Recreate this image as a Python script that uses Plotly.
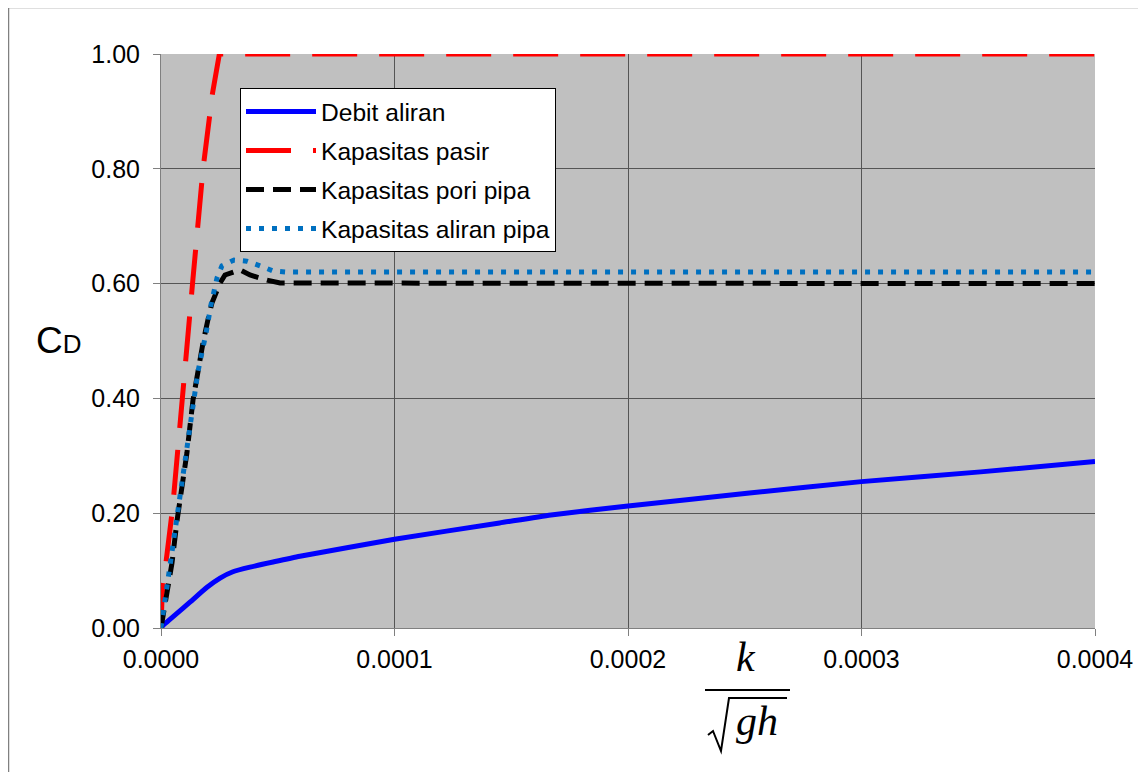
import plotly.graph_objects as go

# ---- data ----
debit_x = [0, 1.0e-6, 12.4e-6, 19.7e-6, 25.3e-6, 30.8e-6, 38.1e-6, 48.0e-6, 59.5e-6,
           100e-6, 145e-6, 167e-6, 200e-6, 252e-6, 300e-6, 351e-6, 400e-6]
debit_y = [0, 0.005, 0.045, 0.071, 0.087, 0.098, 0.106, 0.115, 0.125,
           0.1545, 0.183, 0.197, 0.2125, 0.235, 0.255, 0.272, 0.29]

pasir_x = [0, 0.5e-6, 5e-6, 8e-6, 10.5e-6, 13.5e-6, 18e-6, 22e-6, 25e-6, 400e-6]
pasir_y = [0, 0.06, 0.21, 0.34, 0.46, 0.60, 0.80, 0.93, 1.0, 1.0]

pori_x = [0, 2.6e-6, 4.7e-6, 6.9e-6, 9.0e-6, 11.1e-6, 13.7e-6, 15.8e-6, 18.0e-6, 20.1e-6,
          21.8e-6, 25.3e-6, 27.4e-6, 33.8e-6, 38.1e-6, 45.4e-6, 51.0e-6, 400e-6]
pori_y = [0, 0.066, 0.113, 0.188, 0.24, 0.305, 0.397, 0.45, 0.497, 0.537,
          0.566, 0.601, 0.615, 0.624, 0.615, 0.606, 0.601, 0.60]

aliran_x = [0, 1.7e-6, 5.1e-6, 7.7e-6, 12.4e-6, 15.8e-6, 19.3e-6, 21.4e-6, 24.0e-6,
            26.1e-6, 31.3e-6, 36.8e-6, 42.4e-6, 48.0e-6, 54.0e-6, 400e-6]
aliran_y = [0, 0.049, 0.141, 0.211, 0.352, 0.446, 0.514, 0.563, 0.61,
            0.631, 0.641, 0.639, 0.631, 0.622, 0.62, 0.62]

x_ticks = [0, 0.0001, 0.0002, 0.0003, 0.0004]
y_ticks = [0, 0.2, 0.4, 0.6, 0.8, 1.0]

# ---- layout geometry (page has an 8px body margin) ----
OFF = 8
W, H = 1146 - OFF, 772 - OFF
L, R, T, B = 161 - OFF, 51, 54 - OFF, H - (628 - OFF)
PW, PH = W - L - R, H - T - B


def xp(px):
    """page pixel x -> paper fraction"""
    return (px - OFF - L) / PW


def yp(py):
    """page pixel y -> paper fraction"""
    return (H - B - (py - OFF)) / PH


fig = go.Figure()
fig.add_trace(go.Scatter(x=debit_x, y=debit_y, mode="lines", name="Debit aliran",
                         line=dict(color="#0000FF", width=5, shape="spline", smoothing=0.5),
                         legendgroup="a"))
fig.add_trace(go.Scatter(x=pasir_x, y=pasir_y, mode="lines", name="Kapasitas pasir",
                         line=dict(color="#FF0000", width=5, dash="45px,22px"),
                         cliponaxis=False, legendgroup="b"))
fig.add_trace(go.Scatter(x=pori_x, y=pori_y, mode="lines", name="Kapasitas pori pipa",
                         line=dict(color="#000000", width=5, dash="18px,9px"),
                         legendgroup="c"))
fig.add_trace(go.Scatter(x=aliran_x, y=aliran_y, mode="lines", name="Kapasitas aliran pipa",
                         line=dict(color="#0070C0", width=5, dash="5px,8px"),
                         legendgroup="d"))

axis_common = dict(showline=True, linecolor="#808080", linewidth=1,
                   ticks="outside", ticklen=7, tickcolor="#808080",
                   showgrid=True, gridcolor="#555555", gridwidth=1,
                   zeroline=False, tickfont=dict(size=25, color="#000000"))

fig.update_xaxes(range=[0, 0.0004], tickvals=x_ticks, tickformat=".4f",
                 ticklabelstandoff=2, **axis_common)
fig.update_yaxes(range=[0, 1.0], tickvals=y_ticks, tickformat=".2f",
                 ticklabelstandoff=8, **axis_common)

shapes = [
    # outer chart frame
    dict(type="rect", xref="paper", yref="paper", x0=xp(8.5), y0=yp(7.5), x1=xp(1170), y1=yp(800),
         line=dict(color="#808080", width=1.5), layer="below"),
    # fraction bar
    dict(type="line", xref="paper", yref="paper", x0=xp(705), x1=xp(790), y0=yp(690), y1=yp(690),
         line=dict(color="#000000", width=2)),
    # radical sign
    dict(type="path", xref="paper", yref="paper",
         path="M {},{} L {},{} L {},{} L {},{} L {},{}".format(
             xp(708), yp(735), xp(713), yp(731), xp(721), yp(751), xp(729), yp(698), xp(787), yp(698)),
         line=dict(color="#000000", width=2)),
]

annotations = [
    dict(xref="paper", yref="paper", x=xp(746), y=yp(657), text="<i>k</i>", showarrow=False,
         xanchor="center", yanchor="middle",
         font=dict(family="Liberation Serif, DejaVu Serif, serif", size=42, color="#000000")),
    dict(xref="paper", yref="paper", x=xp(757), y=yp(721), text="<i>gh</i>", showarrow=False,
         xanchor="center", yanchor="middle",
         font=dict(family="Liberation Serif, DejaVu Serif, serif", size=42, color="#000000")),
    dict(xref="paper", yref="paper", x=xp(34), y=yp(340),
         text="C<span style='font-size:26px'>D</span>", showarrow=False,
         xanchor="left", yanchor="middle",
         font=dict(size=37, color="#000000")),
]

fig.update_layout(
    width=W, height=H,
    margin=dict(l=L, r=R, t=T, b=B, pad=0),
    paper_bgcolor="#FFFFFF", plot_bgcolor="#C0C0C0",
    font=dict(family="Liberation Sans, Arial, sans-serif", size=24, color="#000000"),
    showlegend=True,
    legend=dict(x=xp(240), y=yp(88), xanchor="left", yanchor="top",
                bgcolor="#FFFFFF", bordercolor="#000000", borderwidth=1,
                font=dict(size=24.6, color="#000000"), itemwidth=70,
                entrywidth=314,
                traceorder="grouped", tracegroupgap=4),
    shapes=shapes, annotations=annotations,
)

fig.write_html("out.html")
